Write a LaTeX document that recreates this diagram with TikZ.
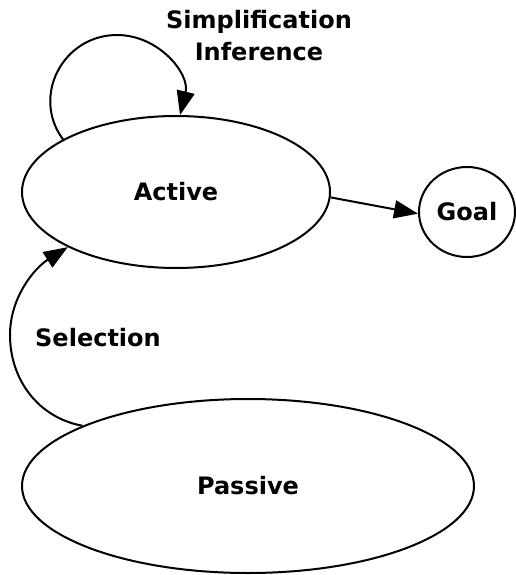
\documentclass[tikz,border=0pt]{standalone}
\usepackage{fontspec}
\setmainfont{DejaVu Sans}
\usetikzlibrary{arrows.meta,shapes.geometric}
\tikzset{
  lbl/.style={font=\fontsize{24}{32}\selectfont\bfseries,align=center},
  state/.style={ellipse,draw,line width=2pt,inner sep=0pt,lbl},
  edge/.style={line width=2pt,-{Triangle[length=24pt,width=18pt]}}
}
\begin{document}
\begin{tikzpicture}[x=1pt,y=-1pt]
  \useasboundingbox (0,0) rectangle (516,575);
  % states
  \node[state,minimum width=308pt,minimum height=152pt] (active) at (176,192) {Active};
  \node[state,minimum width=96pt,minimum height=90pt] (goal) at (467,212) {Goal};
  \node[state,minimum width=452pt,minimum height=174pt] (passive) at (248,486) {Passive};
  \coordinate (looptop) at (117,35);
  \coordinate (selleft) at (10,335);
  % edges
  \draw[edge] (active.155) .. controls +(-32,-43) and +(-54,0) .. (looptop)
    .. controls +(42,0) and +(10,-41) .. (active.87);
  \draw[edge] (active.358) -- (goal.182);
  \draw[edge] (passive.160) .. controls +(-44,-8) and +(0,45) .. (selleft)
    .. controls +(0,-39) and +(-32,20) .. (active.207);
  % edge labels
  \node[lbl] (looplbl) at (259,36) {Simplification\\Inference};
  \node[lbl] (sellbl) at (98,338) {Selection};
\end{tikzpicture}
\end{document}
